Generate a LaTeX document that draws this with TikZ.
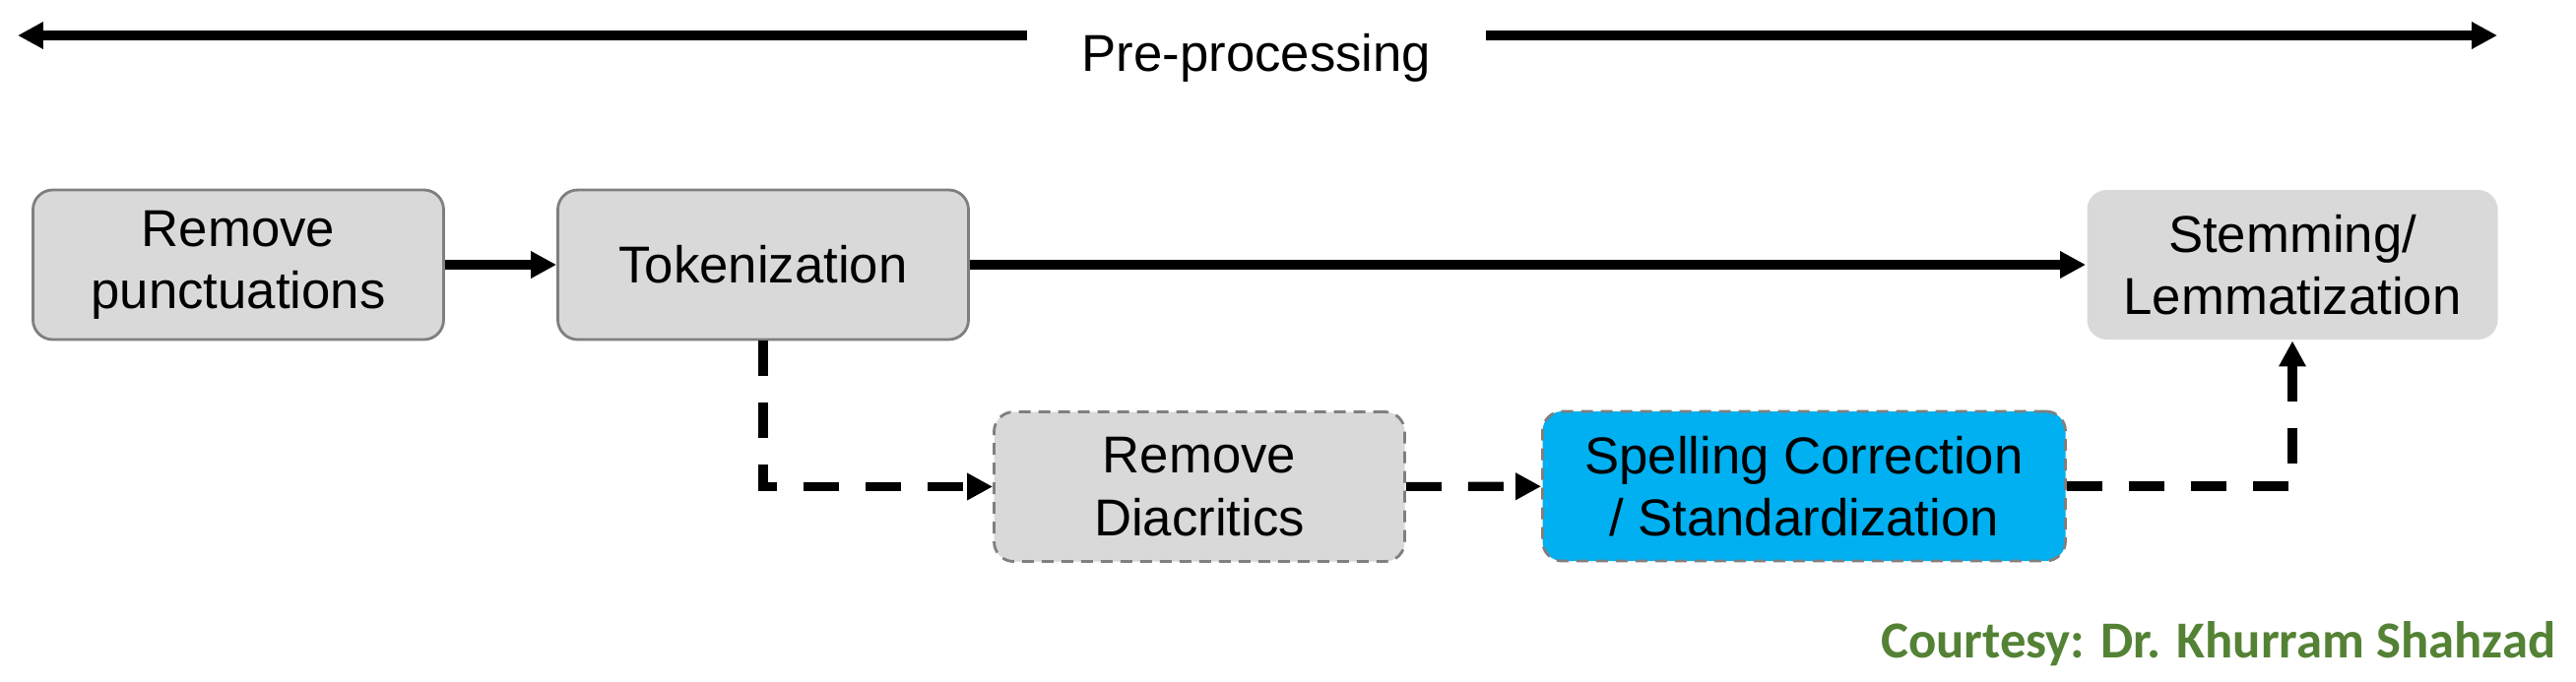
\documentclass[tikz,border=0pt]{standalone}
\usepackage{fontspec}
\setmainfont{Liberation Sans}
\newfontfamily\credfont{Carlito}
\usetikzlibrary{arrows.meta}
\definecolor{boxgray}{HTML}{D9D9D9}
\definecolor{edgegray}{HTML}{7F7F7F}
\definecolor{spellblue}{HTML}{00B0F0}
\definecolor{credgreen}{HTML}{548235}

\begin{document}
\begin{tikzpicture}[
  stage/.style={rectangle, rounded corners=0.2cm, draw=edgegray, line width=0.8pt, fill=boxgray, minimum width=4.17cm, minimum height=1.52cm, font=\fontsize{15}{18}\selectfont, align=center, inner sep=0pt},
  optstage/.style={stage, dash pattern=on 0.12cm off 0.08cm},
  arr/.style={-{Triangle[length=0.26cm, width=0.26cm]}, line width=2.6pt},
  darr/.style={arr, dash pattern=on 0.36cm off 0.27cm}
]

\useasboundingbox (0,0) rectangle (26.16,-6.92);

\node[font=\fontsize{15}{18}\selectfont, anchor=base, inner ysep=0pt, inner xsep=0.55cm] (pre) at (12.76,-0.72) {Pre-processing};
\coordinate (lend) at (0.18,-0.36);
\coordinate (rend) at (25.36,-0.36);
\draw[arr] (pre.west |- lend) -- (lend);
\draw[arr] (pre.east |- rend) -- (rend);

\node[stage] (rp) at (2.42,-2.69) {Remove\\punctuations};
\node[stage] (tok) at (7.75,-2.69) {Tokenization};
\node[stage, draw=none] (stem) at (23.28,-2.69) {Stemming/\\Lemmatization};

\node[optstage] (diac) at (12.18,-4.945) {Remove\\Diacritics};
\node[optstage, fill=spellblue, minimum width=5.31cm] (spell) at (18.32,-4.94) {Spelling Correction\\/ Standardization};

\draw[arr] (rp) -- (tok);
\draw[arr] (tok) -- (stem);
\draw[darr] (tok.south) |- (diac.west);
\draw[darr] (diac) -- (spell);
\draw[darr] (spell.east) -| (stem.south);

\node[anchor=base east, inner sep=0pt, text=credgreen, font=\credfont\bfseries\fontsize{15}{18}\selectfont] (credit) at (25.96,-6.68) {Courtesy: Dr. Khurram Shahzad};

\end{tikzpicture}
\end{document}
